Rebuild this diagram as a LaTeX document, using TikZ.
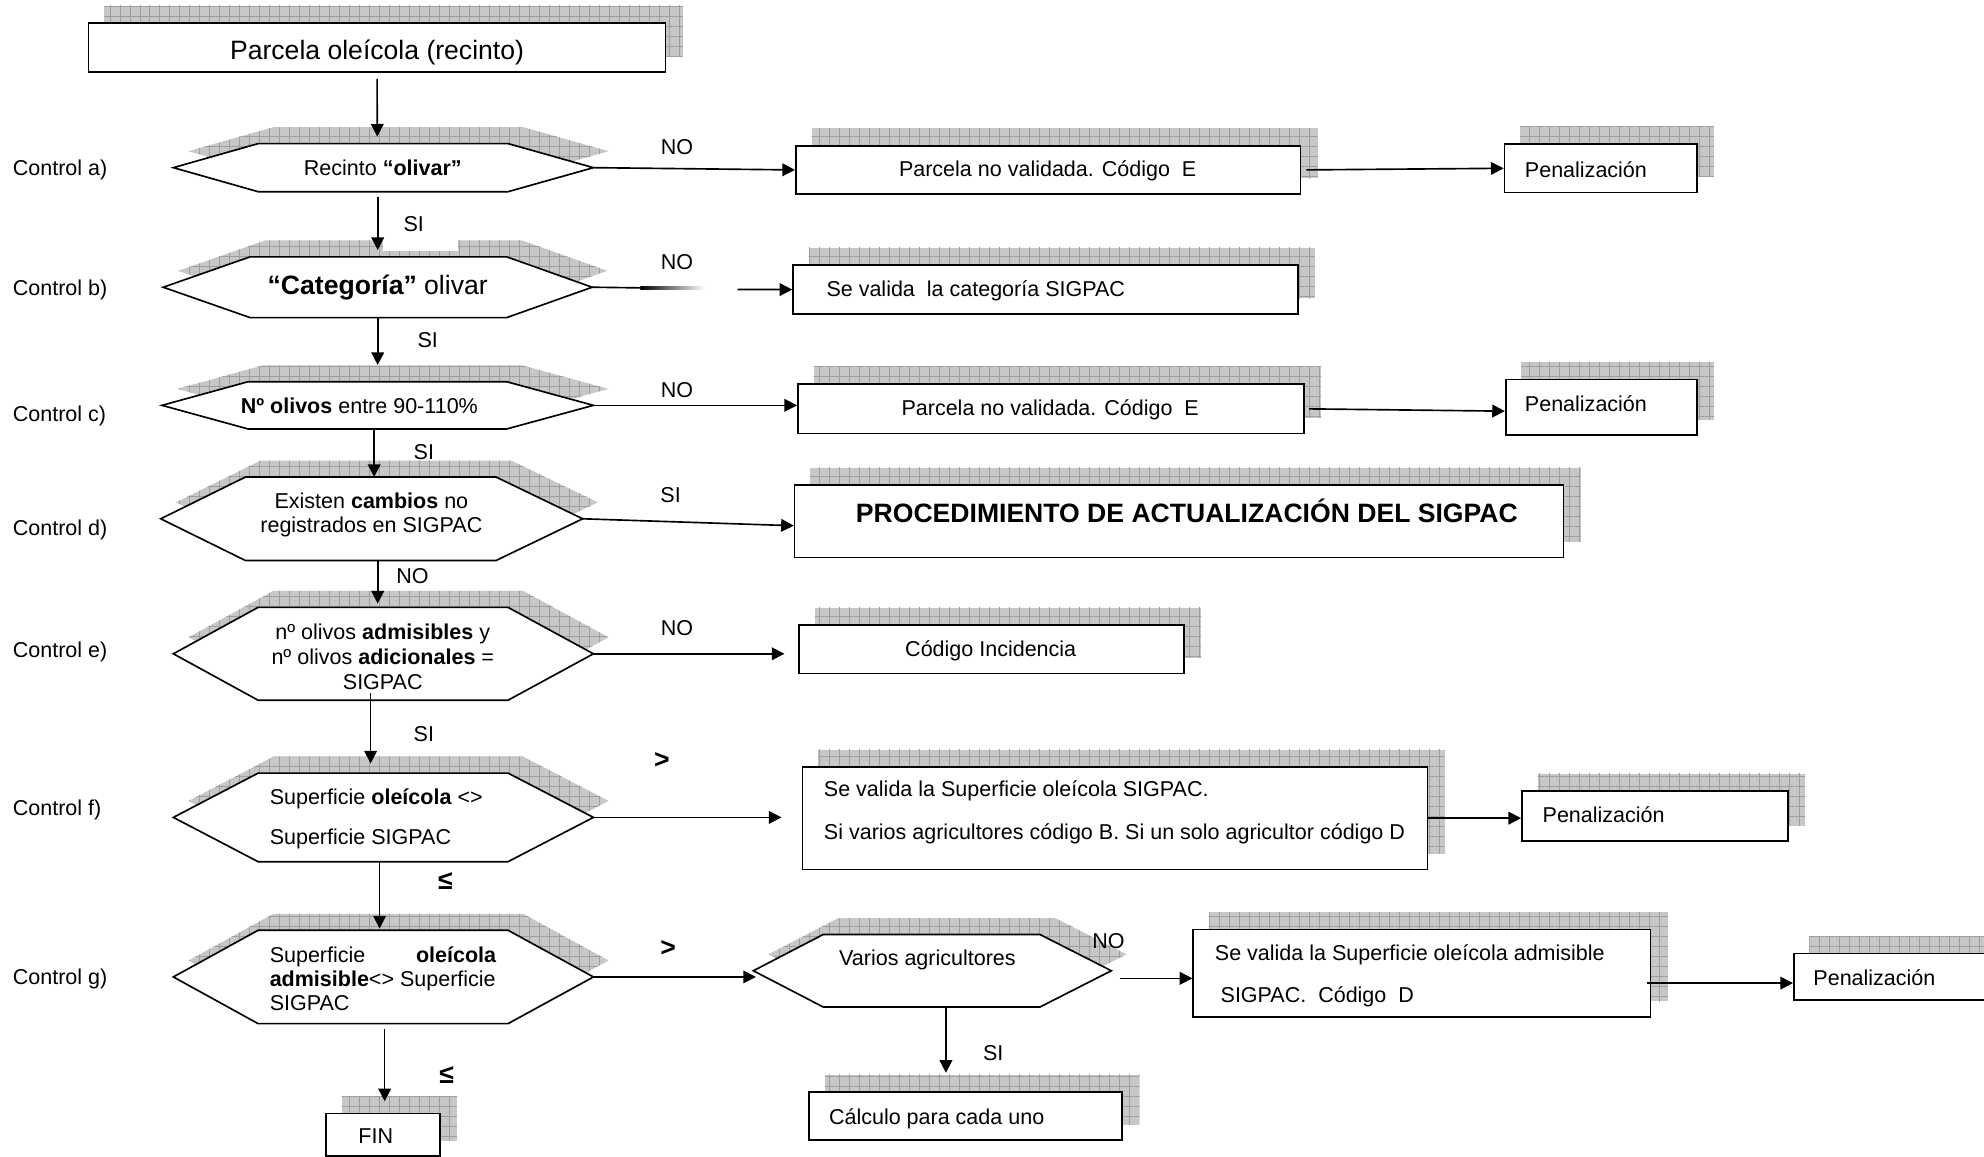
\documentclass[tikz,border=0pt]{standalone}
\usepackage{fontspec}
\setmainfont{Liberation Sans}
\usetikzlibrary{arrows.meta,patterns.meta,backgrounds}
\tikzset{
  boxshape/.style={draw, line width=1.3bp, fill=white},
  shadowfill/.style={fill=black!22,
    postaction={pattern={Lines[distance=7.9bp,angle=0,line width=0.7bp]}, pattern color=black!38},
    postaction={pattern={Lines[distance=7.9bp,angle=90,line width=0.7bp]}, pattern color=black!38}},
  arr/.style={-{Triangle[length=10bp,width=10bp]}, line width=1.3bp},
  conn/.style={line width=1.3bp},
  big/.style={font=\fontsize{21bp}{24bp}\selectfont},
}
% name, x1, y1, x2, y2
\newcommand\shbox[5]{%
  \pgfmathsetmacro\bw{#4-#2}\pgfmathsetmacro\bh{#5-#3}%
  \pgfmathsetmacro\bx{(#2+#4)/2}\pgfmathsetmacro\by{(#3+#5)/2}%
  \node[boxshape, minimum width=\bw bp, minimum height=\bh bp] (#1) at (\bx,\by) {};
  \begin{scope}[on background layer]
    \fill[shadowfill] ([xshift=13bp,yshift=13bp]#1.south west) rectangle ([xshift=13bp,yshift=13bp]#1.north east);
  \end{scope}}
% name, L, R, top, bottom, innerL, innerR
\newcommand\hexa[7]{%
  \pgfmathsetmacro\hm{(#4+#5)/2}%
  \begin{scope}[on background layer]
    \fill[shadowfill, shift={(12,-13)}] (#2,\hm) -- (#6,#4) -- (#7,#4) -- (#3,\hm) -- (#7,#5) -- (#6,#5) -- cycle;
  \end{scope}
  \draw[boxshape] (#2,\hm) coordinate (#1W) -- (#6,#4) -- (#7,#4) -- (#3,\hm) coordinate (#1E) -- (#7,#5) -- (#6,#5) -- cycle;}
\begin{document}
\begin{tikzpicture}[x=1bp,y=-1bp, every node/.style={font=\fontsize{17bp}{20bp}\selectfont, inner sep=0pt}]
\useasboundingbox (0,0) rectangle (1568,914);
\clip (0,0) rectangle (1568,914);

% hexagons
\hexa{ha}{137}{469}{113.5}{151.5}{204}{401.5}
\hexa{hb}{129}{468}{203}{251}{197.6}{400.5}
\hexa{hc}{128}{469}{301.7}{339}{196}{400.5}
\hexa{hd}{127}{460.5}{377}{443}{194}{392}
\hexa{he}{137}{469}{480}{553.4}{204}{401.5}
\hexa{hf}{137}{469}{611}{681}{204}{401.5}
\hexa{hg}{137}{469}{735.2}{809}{204}{401.5}
\hexa{hv}{595.4}{878.3}{738.6}{795.8}{650.5}{822}

% boxes
\shbox{top}{70}{18}{526}{56.7}
\shbox{boxA}{629}{115.2}{1027.7}{153.4}
\shbox{penA}{1189}{114}{1341}{152}
\shbox{boxB}{626.8}{209.5}{1025.6}{248.2}
\shbox{boxC}{630.6}{303.6}{1030.4}{342.6}
\shbox{penC}{1190}{300}{1341}{343.9}
\shbox{proc}{628}{383.4}{1235.6}{440.6}
\shbox{incid}{631.6}{494}{935.6}{532.3}
\shbox{boxF}{634.3}{606}{1128.3}{687.2}
\shbox{penF}{1202.8}{625}{1413.2}{664.8}
\shbox{boxG}{943}{734.6}{1304.4}{803.7}
\shbox{penG}{1417.7}{753.6}{1580}{790.5}
\shbox{calc}{639.4}{863}{886.8}{901.2}
\shbox{fin}{257.6}{880}{347.6}{913.8}

\begin{scope}[on background layer]
  \fill[white] (303,188) rectangle (362,198.5);
\end{scope}

% texts
\node[big] (topT) at (298,41.5) {Parcela oleícola (recinto)};
\node (aT) at (302.5,132.5) {Recinto \textbf{“olivar”}};
\node[big] (bT) at (298.5,227) {\textbf{“Categoría”} olivar};
\node (cT) at (284,321) {\textbf{Nº olivos} entre 90-110\%};
\node[align=center, font=\fontsize{17bp}{19bp}\selectfont] (dT) at (293.5,407) {Existen \textbf{cambios} no\\registrados en SIGPAC};
\node[align=center, font=\fontsize{17bp}{19.5bp}\selectfont] (eT) at (302.5,519) {nº olivos \textbf{admisibles} y\\nº olivos \textbf{adicionales} =\\SIGPAC};
\node[anchor=west, align=left, font=\fontsize{17bp}{32bp}\selectfont] (fT) at (213,647) {Superficie \textbf{oleícola} <>\\Superficie SIGPAC};
\node[anchor=west, align=left, font=\fontsize{17bp}{19bp}\selectfont] (gT) at (213,773.5) {\hbox to 179bp{Superficie\hfill\textbf{oleícola}}\\\textbf{admisible}<> Superficie\\SIGPAC};
\node (vT) at (733,759) {Varios agricultores};

\node (boxAT) at (828,135) {Parcela no validada. Código\ \ E};
\node[anchor=west] (boxBT) at (653,229.5) {Se valida\ \ la categoría SIGPAC};
\node (boxCT) at (830,324) {Parcela no validada. Código\ \ E};
\node[big] (procT) at (938,404) {\textbf{PROCEDIMIENTO DE ACTUALIZACIÓN DEL SIGPAC}};
\node (incidT) at (783,514) {Código Incidencia};
\node[anchor=west, align=left, font=\fontsize{17bp}{34bp}\selectfont] (boxFT) at (651,642) {Se valida la Superficie oleícola SIGPAC.\\Si varios agricultores código B. Si un solo agricultor código D};
\node[anchor=west, align=left, font=\fontsize{17bp}{33bp}\selectfont] (boxGT) at (960,771) {Se valida la Superficie oleícola admisible\\\hspace*{4.5bp}SIGPAC.\ \ Código\ \ D};
\node[anchor=west] (penAT) at (1205,134) {Penalización};
\node[anchor=west] (penCT) at (1205,319) {Penalización};
\node[anchor=west] (penFT) at (1219,644) {Penalización};
\node[anchor=west] (penGT) at (1433,773) {Penalización};
\node[anchor=west] (calcT) at (655,884) {Cálculo para cada uno};
\node (finT) at (297,898) {FIN};

% control labels
\node[anchor=west] (ctA) at (10,134) {Control a)};
\node[anchor=west] (ctB) at (10,229) {Control b)};
\node[anchor=west] (ctC) at (10,329) {Control c)};
\node[anchor=west] (ctD) at (10,419) {Control d)};
\node[anchor=west] (ctE) at (10,515) {Control e)};
\node[anchor=west] (ctF) at (10,640) {Control f)};
\node[anchor=west] (ctG) at (10,774) {Control g)};

% branch labels
\node (l1) at (535,116) {NO};
\node (l2) at (535,207) {NO};
\node (l3) at (535,308) {NO};
\node (l4) at (530,391) {SI};
\node (l5) at (535,496) {NO};
\node[big] (l6) at (523,601) {\textbf{>}};
\node[big] (l7) at (528,750) {\textbf{>}};
\node[big] (l8) at (352,696) {\textbf{≤}};
\node[big] (l9) at (353,850) {\textbf{≤}};
\node (l10) at (876,744) {NO};
\node (l11) at (785,832) {SI};
\node (l12) at (327,177) {SI};
\node (l13) at (338,269) {SI};
\node (l14) at (335,357) {SI};
\node (l15) at (326,455) {NO};
\node (l16) at (335,580) {SI};

% vertical connectors
\coordinate (aN) at (298.2,113.5);
\coordinate (aS) at (298.5,151.5);
\coordinate (bN) at (298.5,203);
\coordinate (bS) at (298.5,251);
\coordinate (cN) at (298.5,301.7);
\coordinate (cS) at (295.7,339);
\coordinate (dN) at (295.7,377);
\coordinate (dS) at (298.5,443);
\coordinate (eN) at (298.5,480);
\coordinate (eS) at (292.9,553.4);
\coordinate (fN) at (292.9,611);
\coordinate (fS) at (300,681);
\coordinate (gN) at (300,735.2);
\coordinate (gS) at (304,809);
\draw[arr, shorten <=5bp, shorten >=5.5bp] (top.south) -- (aN);
\draw[arr, shorten <=4bp, shorten >=5.4bp] (aS) -- (bN);
\draw[arr, shorten >=13.2bp] (bS) -- (cN);
\draw[arr] (cS) -- (dN);
\draw[arr, shorten >=3bp] (dS) -- (eN);
\draw[arr, shorten <=-5.4bp, shorten >=7.6bp] (eS) -- (fN);
\draw[arr, shorten >=1.4bp] (fS) -- (gN);
\draw[arr, shorten <=4bp, shorten >=9bp] (gS) -- (gS |- fin.north);
\coordinate (vS) at (747.6,795.8);
\draw[arr, shorten >=14.5bp] (vS) -- (vS |- calc.north);

% horizontal connectors
\draw[arr] (haE) -- (boxA.west);
\draw[arr, shorten <=4bp] (boxA.east) -- (penA.west);
\coordinate (bF1) at (506,227.5);
\coordinate (bA) at (583,228.8);
\draw[conn] (hbE) -- (bF1);
\shade[left color=black, right color=white] (506,226.8) rectangle (557,228.6);
\draw[arr] (bA) -- (boxB.west);
\draw[arr] (hcE) -- (hcE -| boxC.west);
\draw[arr, shorten <=3.5bp] (boxC.east) -- ([yshift=-3bp]penC.west);
\draw[arr] (hdE) -- ([yshift=-3.5bp]proc.west);
\draw[arr, shorten >=11bp] (heE) -- (heE -| incid.west);
\draw[arr, shorten >=16bp] (hfE) -- (hfE -| boxF.west);
\draw[arr] (boxF.east) -- (boxF.east -| penF.west);
\draw[arr, shorten >=-2bp] (hgE) -- (hgE -| hvW);
\draw[arr, shorten <=6.5bp] ([yshift=-6bp]hvE) -- ([yshift=-6bp]hvE -| boxG.west);
\draw[arr, shorten <=-3.4bp] ([yshift=-7.8bp]boxG.east) -- ([yshift=-7.8bp]boxG.east -| penG.west);
\end{tikzpicture}
\end{document}
